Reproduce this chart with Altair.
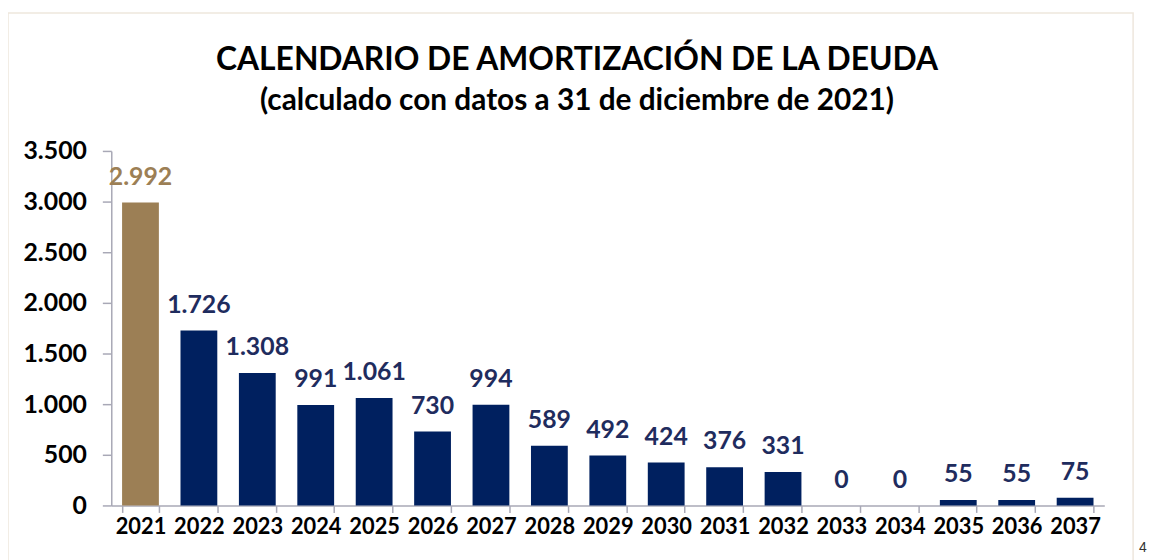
import altair as alt
import pandas as pd

years = ["2021", "2022", "2023", "2024", "2025", "2026", "2027", "2028", "2029",
         "2030", "2031", "2032", "2033", "2034", "2035", "2036", "2037"]
values = [2992, 1726, 1308, 991, 1061, 730, 994, 589, 492, 424, 376, 331, 0, 0, 55, 55, 75]
groups = ["actual"] + ["futuro"] * 16
y_ticks = [0, 500, 1000, 1500, 2000, 2500, 3000, 3500]

df = pd.DataFrame({
    "year": years,
    "value": values,
    "grupo": groups,
    "label": [f"{v:,}".replace(",", ".") for v in values],
})

FONT = "Lato"
NAVY = "#00205F"
NAVY_TXT = "#1F2C5E"
GOLD = "#9C7F55"
AXIS_GREY = "#A8A8B6"

color_scale = alt.Scale(domain=["actual", "futuro"], range=[GOLD, NAVY])
label_scale = alt.Scale(domain=["actual", "futuro"], range=[GOLD, NAVY_TXT])

base = alt.Chart(df)

x_enc = alt.X(
    "year:N",
    sort=years,
    title=None,
    scale=alt.Scale(paddingInner=0.37, paddingOuter=0.185),
    axis=alt.Axis(
        labelAngle=0,
        labelFont=FONT,
        labelFontSize=22,
        labelFontWeight="bold",
        labelColor="#000000",
        labelPadding=4,
        domainColor=AXIS_GREY,
        domainWidth=1.5,
        tickColor=AXIS_GREY,
        tickWidth=1.5,
        tickSize=7,
        tickBand="extent",
        grid=False,
    ),
)

y_enc = alt.Y(
    "value:Q",
    title=None,
    scale=alt.Scale(domain=[0, 3500], nice=False),
    axis=alt.Axis(
        values=y_ticks,
        labelExpr="replace(format(datum.value, ',d'), ',', '.')",
        labelFont=FONT,
        labelFontSize=25,
        labelFontWeight="bold",
        labelColor="#000000",
        labelPadding=16,
        domainColor=AXIS_GREY,
        domainWidth=1.5,
        tickColor=AXIS_GREY,
        tickWidth=1.5,
        tickSize=9,
        grid=False,
    ),
)

bars = base.mark_bar().encode(
    x=x_enc,
    y=y_enc,
    color=alt.Color("grupo:N", scale=color_scale, legend=None),
)

labels = base.mark_text(
    font=FONT, fontSize=25, fontWeight="bold", baseline="alphabetic", dy=-18
).encode(
    x=alt.X("year:N", sort=years),
    y=alt.Y("value:Q"),
    text="label:N",
    color=alt.Color("grupo:N", scale=label_scale, legend=None),
)

frame_df = pd.DataFrame({"k": [0]})
frame = alt.Chart(frame_df).mark_rect(filled=False, stroke="#EEE7DD", strokeWidth=1.5).encode(
    x=alt.value(-104), x2=alt.value(1029), y=alt.value(-139), y2=alt.value(430)
)

page_df = pd.DataFrame({"t": ["4"]})
page_num = alt.Chart(page_df).mark_text(
    font="Liberation Sans", fontSize=14, align="left", baseline="alphabetic", color="#333333"
).encode(
    text="t:N", x=alt.value(1035), y=alt.value(404)
)

chart = alt.layer(frame, bars, labels, page_num).properties(
    width=1000,
    height=357,
    padding={"left": 104, "top": 142, "right": 44, "bottom": 53},
    autosize=alt.AutoSizeParams(type="none"),
    title=alt.TitleParams(
        text="CALENDARIO DE AMORTIZACIÓN DE LA DEUDA",
        subtitle="(calculado con datos a 31 de diciembre de 2021)",
        anchor="middle",
        dx=-31,
        offset=-106,
        font=FONT,
        fontSize=32,
        fontWeight="bold",
        color="#000000",
        subtitleFont=FONT,
        subtitleFontSize=30,
        subtitleFontWeight="bold",
        subtitleColor="#000000",
        subtitlePadding=10,
    ),
).resolve_scale(color="independent").configure_view(strokeWidth=0)

chart.save("out.html", embed_options={"renderer": "svg", "actions": False})
